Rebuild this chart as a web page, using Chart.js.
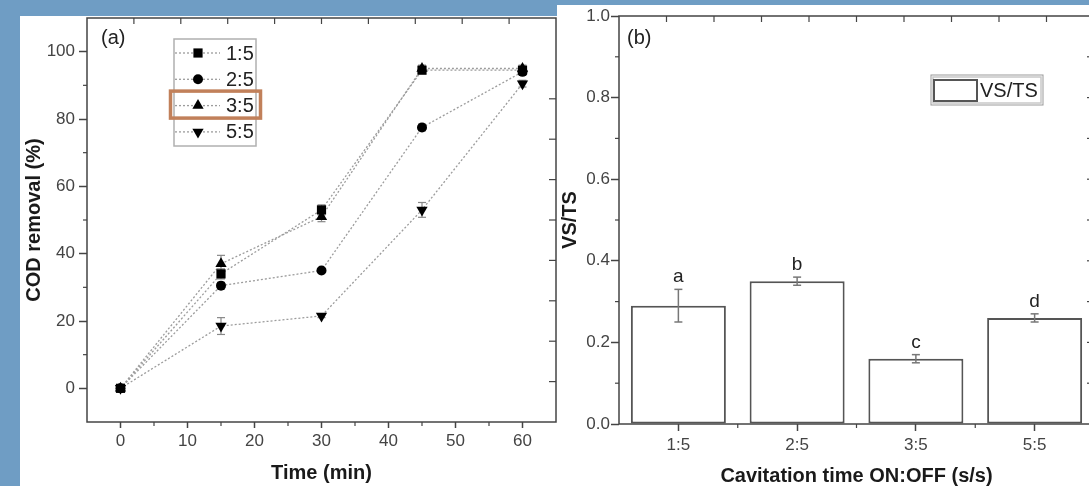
<!DOCTYPE html>
<html lang="en">
<head>
<meta charset="UTF-8">
<title>COD removal and VS/TS</title>
<style>
    html, body { margin: 0; padding: 0; overflow: hidden; }
    body {
        width: 1089px; height: 486px; position: relative;
        background: #6f9dc4;
        font-family: Arial, "Liberation Sans", sans-serif;
    }
    .panel { position: absolute; background: #fff; overflow: hidden; }
    #panelA { left: 20px; top: 16px; width: 537px; height: 470px; }
    #panelB { left: 557px; top: 5px; width: 532px; height: 481px; }
    canvas { display: block; }
</style>
<script src="https://cdn.jsdelivr.net/npm/chart.js"></script>
</head>
<body>
<div class="panel" id="panelA"><canvas id="chartA" width="537" height="470"></canvas></div>
<div class="panel" id="panelB"><canvas id="chartB" width="545" height="481"></canvas></div>
<script>
// ---- data (a): COD removal vs time ----
const timeMin = [0, 15, 30, 45, 60];
const cod_1_5 = [0, 34, 53, 94.5, 94.5];
const cod_2_5 = [0, 30.5, 35, 77.5, 94];
const cod_3_5 = [0, 37, 51, 95, 95];
const cod_5_5 = [0, 18.5, 21.5, 53, 90.5];
const codErr_1_5 = [0.8, 1.5, 1.5, 1, 1];
const codErr_2_5 = [0.8, 1, 0.5, 1, 1];
const codErr_3_5 = [0.8, 2.5, 1.5, 1, 1];
const codErr_5_5 = [0.8, 2.5, 0.5, 2.2, 1];
const xTicksA = [0, 10, 20, 30, 40, 50, 60];
const xMinorA = [5, 15, 25, 35, 45, 55];
const yTicksA = [0, 20, 40, 60, 80, 100];
const yMinorA = [10, 30, 50, 70, 90];
const topTicksA = [2, 9, 16, 23, 30, 37, 44, 51, 58];
const rightTicksA = [2, 14, 26, 38, 50, 62, 74, 86];

// ---- data (b): VS/TS per cavitation ratio ----
const ratios = ['1:5', '2:5', '3:5', '5:5'];
const vsts = [0.29, 0.35, 0.16, 0.26];
const vstsErr = [0.04, 0.01, 0.01, 0.01];
const vstsLetters = ['a', 'b', 'c', 'd'];
const yTicksB = [0, 0.2, 0.4, 0.6, 0.8, 1.0];
const yMinorB = [0.1, 0.3, 0.5, 0.7, 0.9];
const rightTicksB = [0.1, 0.2, 0.3, 0.4, 0.5, 0.6, 0.7, 0.8, 0.9];
const xMinorB = [0.5, 1.5, 2.5];
const topTicksB = [-0.1, 0.3, 0.7, 1.1, 1.5, 1.9, 2.3, 2.7, 3.1];

const FONT = 'Arial, "Liberation Sans", sans-serif';
Chart.defaults.font.family = FONT;

function tick(ctx, x1, y1, x2, y2) {
    ctx.beginPath(); ctx.moveTo(x1, y1); ctx.lineTo(x2, y2); ctx.stroke();
}

// stop tick labels from pushing the plot area around
function noPad(s) {
    s.paddingTop = 0; s.paddingBottom = 0; s.paddingLeft = 0; s.paddingRight = 0;
}

function marker(ctx, style, rotation, radius, x, y) {
    ctx.fillStyle = '#000';
    if (Chart.helpers && Chart.helpers.drawPoint) {
        Chart.helpers.drawPoint(ctx, {pointStyle: style, rotation: rotation, radius: radius, borderWidth: 0}, x, y);
        return;
    }
    ctx.beginPath();
    if (style === 'circle') ctx.arc(x, y, radius, 0, Math.PI * 2);
    else if (style === 'rect') { const s = radius * Math.SQRT1_2; ctx.rect(x - s, y - s, 2 * s, 2 * s); }
    else {
        const r0 = rotation * Math.PI / 180;
        for (let k = 0; k < 3; k++) {
            const a = r0 + k * 2 * Math.PI / 3;
            ctx.lineTo(x + Math.sin(a) * radius, y - Math.cos(a) * radius);
        }
        ctx.closePath();
    }
    ctx.fill();
}

// box + extra Origin-style ticks
const framePlugin = {
    id: 'frame',
    afterDraw(chart, args, o) {
        const {ctx, chartArea: a} = chart;
        const x = chart.scales.x, y = chart.scales.y;
        ctx.save();
        ctx.strokeStyle = '#444';
        ctx.lineWidth = 1.5;
        ctx.strokeRect(a.left, a.top, a.right - a.left, a.bottom - a.top);
        ctx.lineWidth = 1.2;
        (o.xMinor || []).forEach(v => { const p = x.getPixelForValue(v); tick(ctx, p, a.bottom, p, a.bottom + 4); });
        (o.yMinor || []).forEach(v => { const p = y.getPixelForValue(v); tick(ctx, a.left, p, a.left - 4, p); });
        (o.top || []).forEach(v => { const p = x.getPixelForValue(v); tick(ctx, p, a.top, p, a.top + 6); });
        (o.right || []).forEach(v => { const p = y.getPixelForValue(v); tick(ctx, a.right, p, a.right - 7, p); });
        ctx.restore();
    }
};

function drawErrors(chart, o) {
    const ctx = chart.ctx, y = chart.scales.y;
    ctx.save();
    ctx.strokeStyle = o.color;
    ctx.lineWidth = o.width;
    chart.data.datasets.forEach((ds, i) => {
        if (!ds.errors) return;
        chart.getDatasetMeta(i).data.forEach((el, j) => {
            const raw = ds.data[j];
            const v = typeof raw === 'object' ? raw.y : raw;
            const e = ds.errors[j];
            if (!e) return;
            const hi = y.getPixelForValue(v + e), lo = y.getPixelForValue(v - e);
            tick(ctx, el.x, hi, el.x, lo);
            tick(ctx, el.x - o.cap, hi, el.x + o.cap, hi);
            tick(ctx, el.x - o.cap, lo, el.x + o.cap, lo);
        });
    });
    ctx.restore();
}

const errorBarPlugin = {
    id: 'errorBars',
    beforeDatasetsDraw(chart, args, o) { if (o.behind) drawErrors(chart, o); },
    afterDatasetsDraw(chart, args, o) { if (!o.behind) drawErrors(chart, o); }
};

const panelLabelPlugin = {
    id: 'panelLabel',
    afterDraw(chart, args, o) {
        const ctx = chart.ctx;
        ctx.save();
        ctx.font = '20px ' + FONT;
        ctx.fillStyle = '#222';
        ctx.textAlign = 'left';
        ctx.textBaseline = 'middle';
        ctx.fillText(o.text, o.x, o.y);
        ctx.restore();
    }
};

const lineLegendPlugin = {
    id: 'lineLegend',
    afterDraw(chart, args, o) {
        if (!o.show) return;
        const ctx = chart.ctx;
        ctx.save();
        ctx.strokeStyle = '#b0b0b0';
        ctx.lineWidth = 1.5;
        ctx.strokeRect(o.left, o.top, o.width, o.height);
        chart.data.datasets.forEach((ds, i) => {
            const cy = o.firstRow + i * o.rowGap;
            ctx.strokeStyle = ds.borderColor;
            ctx.lineWidth = ds.borderWidth;
            ctx.setLineDash(ds.borderDash);
            tick(ctx, o.left + 1, cy, o.left + o.lineLen, cy);
            ctx.setLineDash([]);
            marker(ctx, ds.pointStyle, ds.pointRotation, ds.pointRadius, o.left + o.markerX, cy);
            ctx.fillStyle = '#222';
            ctx.font = '20px ' + FONT;
            ctx.textAlign = 'left';
            ctx.textBaseline = 'middle';
            ctx.fillText(ds.label, o.left + o.textX, cy + 1);
            if (i === o.highlight) {
                ctx.strokeStyle = '#c1805a';
                ctx.lineWidth = 3.5;
                ctx.strokeRect(o.left - 3.5, cy - 14.5, o.width + 8, 27);
            }
        });
        ctx.restore();
    }
};

const barExtrasPlugin = {
    id: 'barExtras',
    afterDraw(chart, args, o) {
        if (!o.show) return;
        const ctx = chart.ctx, y = chart.scales.y;
        const ds = chart.data.datasets[0];
        ctx.save();
        // significance letters
        ctx.font = '19px ' + FONT;
        ctx.fillStyle = '#222';
        ctx.textAlign = 'center';
        ctx.textBaseline = 'alphabetic';
        chart.getDatasetMeta(0).data.forEach((el, j) => {
            const top = y.getPixelForValue(ds.data[j] + ds.errors[j]);
            ctx.fillText(ds.letters[j], el.x, top - 7);
        });
        // legend
        const L = o.legend;
        ctx.strokeStyle = '#999';
        ctx.lineWidth = 1;
        ctx.strokeRect(L.left, L.top, L.width, L.height);
        ctx.strokeStyle = '#c8c8c8';
        ctx.lineWidth = 1.5;
        ctx.strokeRect(L.left + 2, L.top + 2, L.width - 4, L.height - 4);
        ctx.fillStyle = '#fff';
        ctx.fillRect(L.left + 3, L.top + 5, 43, 21);
        ctx.strokeStyle = '#555';
        ctx.lineWidth = 2;
        ctx.strokeRect(L.left + 3, L.top + 5, 43, 21);
        ctx.fillStyle = '#222';
        ctx.font = '20px ' + FONT;
        ctx.textAlign = 'left';
        ctx.textBaseline = 'middle';
        ctx.fillText(ds.label, L.left + 49, L.top + 16);
        ctx.restore();
    }
};

Chart.register(framePlugin, errorBarPlugin, panelLabelPlugin, lineLegendPlugin, barExtrasPlugin);

function lineSeries(label, values, errs, style, rotation, radius) {
    return {
        label: label,
        data: timeMin.map((t, i) => ({x: t, y: values[i]})),
        errors: errs,
        borderColor: '#9c9c9c',
        borderWidth: 1.3,
        borderDash: [2, 2],
        pointStyle: style,
        pointRotation: rotation,
        pointRadius: radius,
        pointBackgroundColor: '#000',
        pointBorderColor: '#000',
        pointBorderWidth: 0,
        tension: 0,
        fill: false
    };
}

const tickFont = {size: 17};
const titleFont = {size: 20, weight: 'bold', lineHeight: 1};

new Chart(document.getElementById('chartA').getContext('2d'), {
    type: 'line',
    data: {
        datasets: [
            lineSeries('1:5', cod_1_5, codErr_1_5, 'rect', 0, 6.5),
            lineSeries('2:5', cod_2_5, codErr_2_5, 'circle', 0, 5),
            lineSeries('3:5', cod_3_5, codErr_3_5, 'triangle', 0, 6.5),
            lineSeries('5:5', cod_5_5, codErr_5_5, 'triangle', 180, 6.5)
        ]
    },
    options: {
        responsive: false,
        animation: false,
        devicePixelRatio: 1,
        layout: {autoPadding: false, padding: {top: 2, right: 1, left: 0, bottom: 0}},
        scales: {
            x: {
                type: 'linear', min: -5, max: 65,
                afterBuildTicks: s => { s.ticks = xTicksA.map(v => ({value: v})); },
                afterFit: s => { s.height = 64; noPad(s); },
                border: {display: false},
                grid: {drawOnChartArea: false, tickLength: 6, tickColor: '#444', tickWidth: 1.5},
                ticks: {padding: 3, color: '#444', font: tickFont, maxRotation: 0, autoSkip: false},
                title: {display: true, text: 'Time (min)', color: '#1a1a1a', font: titleFont, padding: {top: 0, bottom: 3}}
            },
            y: {
                min: -10, max: 110,
                afterBuildTicks: s => { s.ticks = yTicksA.map(v => ({value: v})); },
                afterFit: s => { s.width = 67; noPad(s); },
                border: {display: false},
                grid: {drawOnChartArea: false, tickLength: 8, tickColor: '#444', tickWidth: 1.5},
                ticks: {padding: 4, color: '#444', font: tickFont},
                title: {display: true, text: 'COD removal (%)', color: '#1a1a1a', font: titleFont, padding: {top: 4, bottom: 0}}
            }
        },
        plugins: {
            legend: {display: false},
            tooltip: {enabled: false},
            frame: {xMinor: xMinorA, yMinor: yMinorA, top: topTicksA, right: rightTicksA},
            errorBars: {color: '#888', width: 1.2, cap: 4, behind: true},
            panelLabel: {text: '(a)', x: 81, y: 22},
            lineLegend: {show: true, left: 154, top: 23, width: 82, height: 107,
                firstRow: 37, rowGap: 26.3, lineLen: 46, markerX: 24, textX: 52, highlight: 2},
            barExtras: {show: false}
        }
    }
});

new Chart(document.getElementById('chartB').getContext('2d'), {
    type: 'bar',
    data: {
        labels: ratios,
        datasets: [{
            label: 'VS/TS',
            data: vsts,
            errors: vstsErr,
            letters: vstsLetters,
            backgroundColor: '#fff',
            borderColor: '#555',
            borderWidth: 2,
            borderSkipped: false,
            barPercentage: 0.8,
            categoryPercentage: 1.0
        }]
    },
    options: {
        responsive: false,
        animation: false,
        devicePixelRatio: 1,
        layout: {autoPadding: false, padding: {top: 11, right: 8, left: 0, bottom: 0}},
        scales: {
            x: {
                offset: true,
                afterFit: s => { s.height = 62; noPad(s); },
                border: {display: false},
                grid: {offset: false, drawOnChartArea: false, tickLength: 7, tickColor: '#444', tickWidth: 1.5},
                ticks: {padding: 4, color: '#444', font: tickFont, maxRotation: 0},
                title: {display: true, text: 'Cavitation time ON:OFF (s/s)', color: '#1a1a1a', font: titleFont, padding: {top: 0, bottom: 0}}
            },
            y: {
                min: 0, max: 1,
                afterBuildTicks: s => { s.ticks = yTicksB.map(v => ({value: v})); },
                afterFit: s => { s.width = 62; noPad(s); },
                border: {display: false},
                grid: {drawOnChartArea: false, tickLength: 8, tickColor: '#444', tickWidth: 1.5},
                ticks: {padding: 1, color: '#444', font: tickFont, callback: v => Number(v).toFixed(1)},
                title: {display: true, text: 'VS/TS', color: '#1a1a1a', font: titleFont, padding: {top: 3, bottom: 0}}
            }
        },
        plugins: {
            legend: {display: false},
            tooltip: {enabled: false},
            frame: {xMinor: xMinorB, yMinor: yMinorB, top: topTicksB, right: rightTicksB},
            errorBars: {color: '#777', width: 1.5, cap: 4, behind: false},
            panelLabel: {text: '(b)', x: 70, y: 33},
            lineLegend: {show: false},
            barExtras: {show: true, legend: {left: 374, top: 70, width: 112, height: 30}}
        }
    }
});
</script>
</body>
</html>
